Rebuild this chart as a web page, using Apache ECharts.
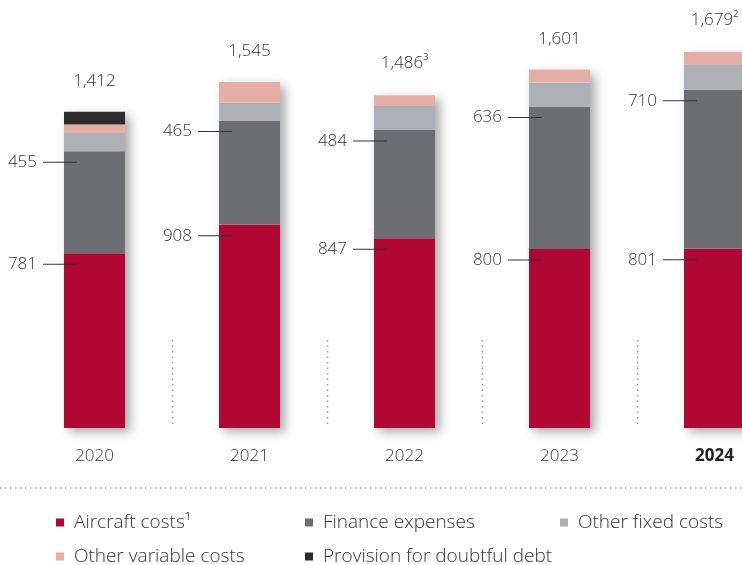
<!DOCTYPE html>
<html>
<head>
<meta charset="utf-8">
<script src="https://cdn.jsdelivr.net/npm/echarts@6/dist/echarts.min.js"></script>
<style>
  html, body { margin: 0; padding: 0; background: #fff; }
  #chart { width: 742px; height: 565px; }
</style>
</head>
<body>
<div id="chart"></div>
<script>
// data
const years = ['2020', '2021', '2022', '2023', '2024']
const aircraft = [781, 908, 847, 800, 801]
const finance = [455, 465, 484, 636, 710]
const otherFixed = [82, 80, 107, 107, 110]
const otherVariable = [38, 92, 48, 58, 58]
const provision = [56, 0, 0, 0, 0]
const totals = [1412, 1545, 1486, 1601, 1679]
const totalNotes = ['', '', '3', '', '2']

const seriesNames = ['Aircraft costs¹', 'Finance expenses', 'Other fixed costs', 'Other variable costs', 'Provision for doubtful debt']
const seriesColors = ['#B00832', '#6D6E72', '#ADB0B7', '#E4AEA6', '#2E2B2D']
const seriesData = [aircraft, finance, otherFixed, otherVariable, provision]

const textColor = '#333'
const font = 'Open Sans'
const thin = 300

// label with leader line on the left side of the bar
const sideLabel = {
  show: true,
  position: [13, 11],
  align: 'right',
  verticalAlign: 'middle',
  formatter: p => '{v|' + p.value + '}{g|}{l|}',
  rich: {
    v: { fontSize: 17, color: textColor, fontFamily: font, fontWeight: thin },
    g: { width: 6 },
    l: { width: 34, height: 1, backgroundColor: textColor }
  }
}

// legend placement: [left, top] per series
const legendPos = [[51, 508], [300, 508], [555, 508], [51, 542], [300, 542]]

const chart = echarts.init(document.getElementById('chart'))

const option = {
  animation: false,
  grid: { left: 17, width: 775, top: 25, bottom: 137, outerBoundsMode: 'none' },
  xAxis: {
    type: 'category',
    data: years,
    axisLine: { show: false },
    axisTick: { show: false },
    axisLabel: {
      margin: 20,
      formatter: v => v === '2024' ? '{b|' + v + '}' : '{n|' + v + '}',
      rich: {
        n: { fontSize: 17, color: textColor, fontFamily: font, fontWeight: thin },
        b: { fontSize: 17, color: '#222', fontFamily: font, fontWeight: 'bold' }
      }
    }
  },
  yAxis: { type: 'value', min: 0, max: 1800, show: false },
  legend: seriesNames.map((n, i) => ({
    left: legendPos[i][0],
    top: legendPos[i][1],
    data: [n],
    icon: 'rect',
    itemWidth: 8,
    itemHeight: 8,
    selectedMode: false,
    textStyle: { fontSize: 19, color: textColor, fontFamily: font, fontWeight: thin, padding: [0, 0, 0, 5] }
  })),
  graphic: [{
    type: 'line',
    shape: { x1: 0, y1: 488, x2: 742, y2: 488 },
    style: { stroke: '#aaa', lineWidth: 1.5, lineDash: [1.5, 3.5] }
  }],
  series: [
    {
      // shadow + total label
      name: 'total',
      type: 'bar',
      data: totals,
      barWidth: 61,
      barGap: '-100%',
      z: 1,
      itemStyle: {
        color: '#fff',
        shadowBlur: 10,
        shadowOffsetX: 5,
        shadowOffsetY: 4,
        shadowColor: 'rgba(0,0,0,0.35)'
      },
      label: {
        show: true,
        position: 'top',
        distance: 22,
        formatter: p => '{t|' + p.value.toLocaleString('en-US') + '}' + (totalNotes[p.dataIndex] ? '{s|' + totalNotes[p.dataIndex] + '}' : ''),
        rich: {
          t: { fontSize: 17, color: textColor, fontFamily: font, fontWeight: thin },
          s: { fontSize: 9, color: textColor, fontFamily: font, padding: [0, 0, 11, 0] }
        }
      }
    }
  ].concat(seriesNames.map((n, i) => ({
    name: n,
    type: 'bar',
    stack: 'c',
    barWidth: 61,
    barGap: '-100%',
    data: seriesData[i],
    itemStyle: { color: seriesColors[i] },
    label: i < 2 ? sideLabel : { show: false }
  }))).concat([
    {
      // dotted separators between the years
      type: 'custom',
      silent: true,
      data: [0, 1, 2, 3],
      renderItem: (params, api) => {
        const p = api.coord([api.value(0), 0])
        const bw = api.size([1, 0])[0]
        const x = Math.round(p[0] + bw / 2) + 0.5
        return {
          type: 'line',
          shape: { x1: x, y1: p[1] - 88, x2: x, y2: p[1] },
          style: { stroke: '#999', lineWidth: 1.5, lineDash: [1.5, 4] }
        }
      }
    }
  ])
}

chart.setOption(option)
</script>
</body>
</html>
